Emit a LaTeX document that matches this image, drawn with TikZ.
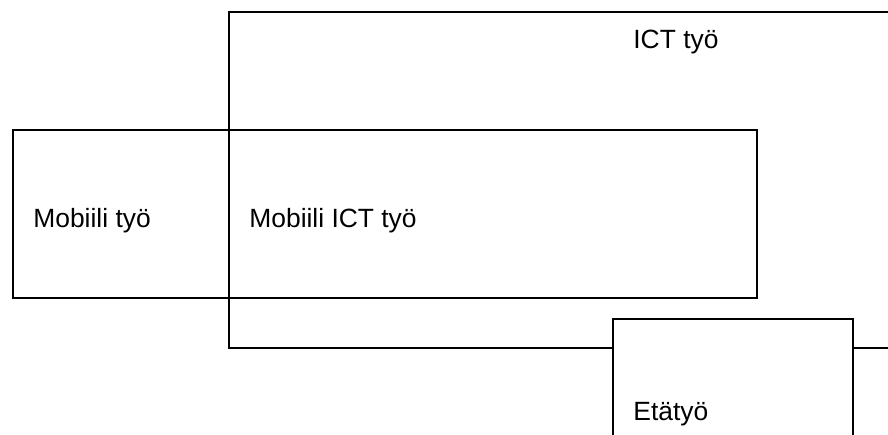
\documentclass[tikz,border=0pt]{standalone}
\usepackage{fontspec}
\setmainfont{Liberation Sans}
\usepackage{tikz}
\usetikzlibrary{positioning}

\begin{document}
\begin{tikzpicture}[
  x=0.5pt, y=-0.5pt,
  area/.style={draw, line width=1pt, minimum width=#1, inner sep=0pt},
  lbl/.style={font=\fontsize{13.2}{15}\selectfont, anchor=base west, inner sep=0pt},
]
\useasboundingbox (0,0) rectangle (888,434);
\clip (0,0) rectangle (888,434);

%% ICT work (runs off the right edge)
\node[area=336pt, minimum height=168pt, anchor=north west] (ict) at (228,11) {};
\node[lbl] (ictlbl) at (633,48) {ICT työ};

%% Mobile work
\node[area=372pt, minimum height=84pt, anchor=north west] (mob) at (12,129) {};
\node[lbl] (moblbl) at (33,227) {Mobiili työ};
\node[lbl] (mobict) at (249,227) {Mobiili ICT työ};

%% Telework (covers ICT bottom edge)
\node[area=120pt, minimum height=70pt, fill=white, anchor=north west] (eta) at (612,318) {};
\node[lbl] (etalbl) at (633,420) {Etätyö};

\end{tikzpicture}
\end{document}
